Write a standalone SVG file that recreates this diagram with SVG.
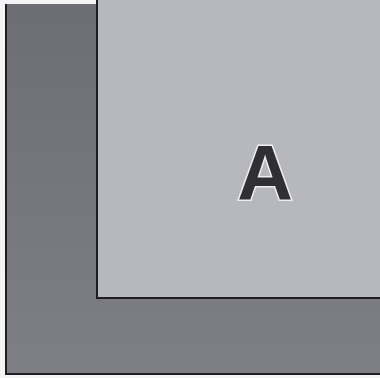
<svg xmlns="http://www.w3.org/2000/svg" width="380" height="378" viewBox="0 0 380 378">
<defs>
<linearGradient id="og" x1="0" y1="0" x2="0" y2="1">
<stop offset="0" stop-color="#6d6e73"/>
<stop offset="1" stop-color="#7e7f84"/>
</linearGradient>
</defs>
<style>
.outer{fill:url(#og)}
.inner{fill:#b6b8bd}
.edge{stroke:#1e1e22;stroke-width:2;fill:none}
.lbl{font-family:"Liberation Sans",Arial,sans-serif;font-weight:bold;font-size:77px;fill:#303034;stroke:#eeeeee;stroke-width:3;paint-order:stroke;text-anchor:middle}
</style>
<rect x="0" y="0" width="380" height="378" fill="#f4f4f4"/>
<g id="outer">
<rect class="outer" x="5" y="4" width="375" height="370"/>
<path class="edge" d="M6,4 V374 H380"/>
</g>
<g id="A">
<rect class="inner" x="97" y="0" width="283" height="298"/>
<path class="edge" d="M97,0 V298 H380"/>
<text class="lbl" x="265" y="200">A</text>
</g>
</svg>
